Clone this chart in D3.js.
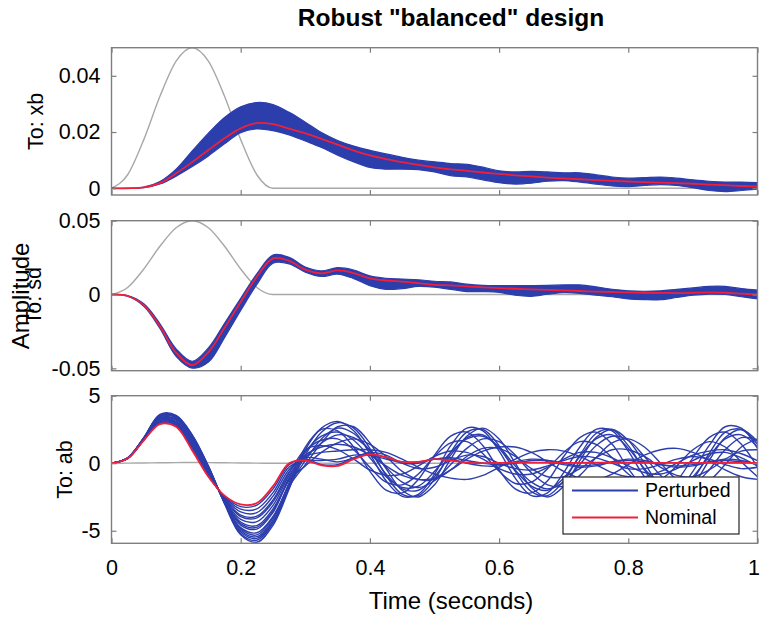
<!DOCTYPE html>
<html>
<head>
<meta charset="utf-8">
<script src="https://cdn.jsdelivr.net/npm/d3@7"></script>
<style>
  body { margin: 0; background: #ffffff; }
  text { font-family: "Liberation Sans", Arial, Helvetica, sans-serif; fill: #000; }
</style>
</head>
<body>
<svg id="chart" width="760" height="623"></svg>
<script>
// ---- sample times (seconds) ----
const time = [0, 0.025, 0.05, 0.075, 0.1, 0.125, 0.15, 0.175, 0.2, 0.225,
  0.25, 0.275, 0.3, 0.325, 0.35, 0.375, 0.4, 0.425, 0.45, 0.475,
  0.5, 0.525, 0.55, 0.575, 0.6, 0.625, 0.65, 0.675, 0.7, 0.725,
  0.75, 0.775, 0.8, 0.825, 0.85, 0.875, 0.9, 0.925, 0.95, 0.975, 1];
const timeTicks = [0, 0.2, 0.4, 0.6, 0.8, 1];
const timeTickLabels = ["0", "0.2", "0.4", "0.6", "0.8", "1"];

// ---- disturbance input (grey) ----
const inputPulse = [0, 0.0048, 0.0173, 0.0327, 0.0452, 0.05, 0.0452, 0.0327, 0.0173, 0.0048,
  0, 0, 0, 0, 0, 0, 0, 0, 0, 0, 0, 0, 0, 0, 0, 0, 0, 0, 0, 0, 0, 0, 0, 0, 0, 0, 0, 0, 0, 0, 0];

// ---- output xb ----
const xbRange = [-0.0024, 0.05];
const xbTicks = [0, 0.02, 0.04];
const xbTickLabels = ["0", "0.02", "0.04"];
const xbNominal = [0, 0.0000, 0.0003, 0.0018, 0.0053, 0.0093, 0.0136, 0.0178, 0.0213, 0.0232,
  0.0228, 0.0212, 0.0195, 0.0176, 0.0155, 0.0134, 0.0117, 0.0104, 0.0093, 0.0083,
  0.0074, 0.0067, 0.0062, 0.0056, 0.0051, 0.0046, 0.0042, 0.0038, 0.0035, 0.0032,
  0.0029, 0.0026, 0.0024, 0.0022, 0.0020, 0.0018, 0.0016, 0.0013, 0.0011, 0.0008, 0.0006];
const xbUpper = [0, 0.0000, 0.0004, 0.0024, 0.0068, 0.0133, 0.0196, 0.0252, 0.0290, 0.0305,
  0.0298, 0.0270, 0.0235, 0.0198, 0.0170, 0.0150, 0.0135, 0.0122, 0.0110, 0.0100,
  0.0094, 0.0088, 0.0085, 0.0075, 0.0062, 0.0058, 0.0060, 0.0058, 0.0055, 0.0055,
  0.0048, 0.0040, 0.0036, 0.0038, 0.0040, 0.0036, 0.0030, 0.0025, 0.0022, 0.0022, 0.0020];
const xbLower = [0, 0.0000, 0.0002, 0.0015, 0.0043, 0.0077, 0.0115, 0.0158, 0.0198, 0.0211,
  0.0205, 0.0190, 0.0168, 0.0145, 0.0118, 0.0094, 0.0074, 0.0068, 0.0068, 0.0066,
  0.0058, 0.0045, 0.0040, 0.0030, 0.0020, 0.0015, 0.0018, 0.0025, 0.0027, 0.0022,
  0.0015, 0.0008, 0.0006, 0.0010, 0.0013, 0.0010, 0.0002, -0.0008, -0.0012, -0.0008, -0.0003];

// ---- output sd ----
const sdRange = [-0.0516, 0.05];
const sdTicks = [-0.05, 0, 0.05];
const sdTickLabels = ["-0.05", "0", "0.05"];
const sdNominal = [0, -0.0010, -0.0072, -0.0215, -0.0395, -0.0478, -0.0390, -0.0225, -0.0050, 0.0120,
  0.0245, 0.0228, 0.0168, 0.0143, 0.0163, 0.0145, 0.0110, 0.0095, 0.0087, 0.0077,
  0.0066, 0.0062, 0.0055, 0.0049, 0.0043, 0.0039, 0.0035, 0.0032, 0.0028, 0.0024,
  0.0020, 0.0017, 0.0014, 0.0012, 0.0011, 0.0010, 0.0012, 0.0014, 0.0012, 0.0006, 0.0000];
const sdUpper = [0, -0.0007, -0.0063, -0.0198, -0.0368, -0.0452, -0.0362, -0.0195, -0.0025, 0.0140,
  0.0268, 0.0252, 0.0186, 0.0160, 0.0182, 0.0166, 0.0126, 0.0110, 0.0105, 0.0100,
  0.0090, 0.0085, 0.0070, 0.0062, 0.0060, 0.0060, 0.0060, 0.0062, 0.0065, 0.0065,
  0.0052, 0.0035, 0.0025, 0.0022, 0.0025, 0.0035, 0.0045, 0.0055, 0.0055, 0.0040, 0.0030];
const sdLower = [0, -0.0012, -0.0080, -0.0230, -0.0418, -0.0498, -0.0458, -0.0292, -0.0108, 0.0068,
  0.0212, 0.0208, 0.0152, 0.0122, 0.0138, 0.0108, 0.0060, 0.0035, 0.0040, 0.0055,
  0.0050, 0.0035, 0.0020, 0.0020, 0.0015, -0.0005, -0.0012, 0.0002, 0.0012, 0.0008,
  -0.0005, -0.0015, -0.0030, -0.0035, -0.0035, -0.0020, -0.0005, 0.0003, 0.0000, -0.0015, -0.0030];

// ---- output ab ----
const abRange = [-5.93, 5];
const abTicks = [-5, 0, 5];
const abTickLabels = ["-5", "0", "5"];
const abNominal = [0, 0.35, 1.70, 2.90, 2.70, 0.95, -1.00, -2.40, -3.05, -2.95, -1.70, 0.00,
  0.20, -0.15, -0.20, 0.30, 0.65, 0.45, 0.10, 0.10, 0.30, 0.20, 0.05, 0.00, 0.03, 0.05, 0.05, 0.04,
  0.03, 0.03, 0.04, 0.04, 0.03, 0.02, 0.02, 0.03, 0.03, 0.02, 0.02, 0.02, 0.02];

// perturbed plant responses for ab
const abRun1 = [0, 0.40, 1.90, 3.62, 3.55, 2.10, -0.20, -3.00, -5.30, -5.85, -4.60, -1.90,
  1.00, 2.60, 3.10, 2.40, 0.70, -1.30, -2.45, -2.30, -0.80, 1.30, 2.60, 2.40, 0.90, -1.10, -2.40, -2.20,
  -0.70, 1.20, 2.50, 2.40, 0.90, -1.00, -2.20, -2.10, -0.60, 1.30, 2.70, 2.60, 1.10];
const abRun2 = [0, 0.40, 1.88, 3.58, 3.50, 2.06, -0.25, -2.96, -5.22, -5.70, -4.45, -1.80,
  0.60, 2.30, 3.00, 2.60, 1.10, -0.90, -2.30, -2.40, -1.20, 0.80, 2.30, 2.50, 1.30, -0.60, -2.10, -2.40,
  -1.30, 0.60, 2.20, 2.50, 1.30, -0.50, -2.00, -2.30, -1.20, 0.70, 2.30, 2.50, 1.40];
const abRun3 = [0, 0.39, 1.87, 3.55, 3.46, 2.01, -0.27, -2.94, -5.10, -5.57, -4.35, -1.72,
  -0.10, 1.50, 2.70, 2.70, 1.50, -0.40, -2.00, -2.50, -1.60, 0.30, 2.00, 2.60, 1.80, 0.00, -1.80, -2.50,
  -1.70, 0.20, 1.90, 2.50, 1.70, 0.00, -1.70, -2.30, -1.60, 0.20, 1.90, 2.50, 1.60];
const abRun4 = [0, 0.39, 1.86, 3.50, 3.43, 1.95, -0.31, -2.92, -4.98, -5.44, -4.20, -1.63,
  0.20, 1.80, 2.60, 2.20, 0.90, -0.80, -1.90, -2.00, -1.00, 0.60, 1.90, 2.10, 1.10, -0.50, -1.70, -2.00,
  -1.10, 0.50, 1.80, 2.10, 1.10, -0.40, -1.60, -1.90, -1.00, 0.50, 1.80, 2.10, 1.20];
const abRun5 = [0, 0.39, 1.85, 3.46, 3.40, 1.88, -0.36, -2.90, -4.86, -5.31, -4.05, -1.55,
  0.80, 2.00, 2.30, 1.70, 0.40, -1.00, -1.80, -1.70, -0.60, 0.80, 1.80, 2.00, 1.20, -0.20, -1.40, -1.90,
  -1.40, -0.10, 1.30, 2.00, 1.70, 0.50, -0.90, -1.70, -1.60, -0.50, 1.00, 1.90, 1.70];
const abRun6 = [0, 0.38, 1.84, 3.43, 3.36, 1.83, -0.40, -2.86, -4.77, -5.15, -3.94, -1.45,
  1.20, 2.50, 2.40, 1.20, -0.60, -2.00, -2.20, -1.20, 0.60, 2.00, 2.30, 1.30, -0.50, -1.90, -2.20, -1.30,
  0.50, 1.90, 2.30, 1.40, -0.40, -1.80, -2.10, -1.30, 0.40, 1.90, 2.30, 1.40, -0.30];
const abRun7 = [0, 0.38, 1.82, 3.36, 3.28, 1.72, -0.47, -2.80, -4.58, -4.88, -3.65, -1.27,
  -0.20, 0.80, 1.50, 1.80, 1.40, 0.50, -0.60, -1.20, -1.20, -0.50, 0.50, 1.10, 1.10, 0.50, -0.40, -1.00,
  -1.00, -0.40, 0.40, 1.00, 1.00, 0.50, -0.30, -0.90, -1.00, -0.50, 0.30, 0.90, 1.00];
const abRun8 = [0, 0.37, 1.81, 3.33, 3.24, 1.68, -0.50, -2.78, -4.47, -4.75, -3.52, -1.18,
  0.40, 1.50, 2.10, 1.90, 1.00, -0.30, -1.40, -1.80, -1.30, -0.10, 1.10, 1.80, 1.60, 0.60, -0.70, -1.60,
  -1.70, -0.90, 0.40, 1.50, 1.80, 1.20, 0.00, -1.20, -1.70, -1.30, -0.10, 1.20, 1.80];
const abRun9 = [0, 0.37, 1.80, 3.30, 3.20, 1.62, -0.55, -2.76, -4.35, -4.62, -3.38, -1.09,
  0.90, 1.70, 1.80, 1.00, -0.30, -1.40, -1.60, -0.80, 0.50, 1.50, 1.60, 0.70, -0.60, -1.50, -1.40, -0.40,
  0.80, 1.60, 1.40, 0.40, -0.80, -1.50, -1.20, -0.20, 1.00, 1.60, 1.20, 0.10, -1.00];
const abRun10 = [0, 0.37, 1.78, 3.25, 3.10, 1.53, -0.60, -2.70, -4.16, -4.33, -3.12, -0.91,
  0.60, 1.20, 1.40, 1.20, 0.60, -0.20, -0.90, -1.20, -1.10, -0.50, 0.30, 0.90, 1.20, 1.20, 0.80, 0.10,
  -0.60, -1.10, -1.20, -0.80, -0.10, 0.60, 1.00, 1.10, 0.80, 0.20, -0.50, -1.00, -1.20];
const abRun11 = [0, 0.36, 1.77, 3.17, 3.04, 1.41, -0.70, -2.63, -3.95, -4.05, -2.86, -0.73,
  1.00, 1.30, 1.00, 0.30, -0.50, -0.90, -0.80, -0.20, 0.50, 0.90, 0.80, 0.30, -0.40, -0.80, -0.80, -0.30,
  0.30, 0.80, 0.80, 0.40, -0.20, -0.70, -0.80, -0.40, 0.20, 0.70, 0.80, 0.40, -0.20];
const abRun12 = [0, 0.36, 1.76, 3.14, 2.99, 1.36, -0.74, -2.61, -3.84, -3.92, -2.72, -0.64,
  0.50, 0.80, 0.90, 1.00, 1.00, 0.80, 0.30, -0.30, -0.80, -1.10, -1.20, -0.90, -0.30, 0.30, 0.80, 1.00,
  0.90, 0.50, -0.10, -0.70, -1.00, -1.00, -0.60, 0.00, 0.60, 0.90, 1.00, 0.70, 0.20];
const abRun13 = [0, 0.36, 1.74, 3.08, 2.90, 1.26, -0.81, -2.56, -3.61, -3.66, -2.44, -0.46,
  0.40, 0.30, 0.10, 0.40, 0.80, 0.60, 0.00, -0.40, -0.30, 0.20, 0.60, 0.50, 0.00, -0.40, -0.50, -0.20,
  0.20, 0.50, 0.40, 0.00, -0.40, -0.40, -0.10, 0.30, 0.50, 0.30, -0.10, -0.40, -0.30];
const abRun14 = [0, 0.35, 1.72, 3.01, 2.83, 1.15, -0.88, -2.50, -3.40, -3.38, -2.18, -0.28,
  0.20, 0.20, 0.30, 0.60, 0.60, 0.30, 0.10, 0.10, 0.30, 0.40, 0.20, 0.00, -0.10, 0.00, 0.20, 0.20,
  0.00, -0.20, -0.10, 0.10, 0.20, 0.10, -0.10, -0.20, -0.10, 0.10, 0.20, 0.10, 0.00];
const abRun15 = [0, 0.35, 1.70, 2.96, 2.76, 1.05, -0.95, -2.45, -3.21, -3.10, -1.90, -0.10,
  0.30, -0.10, -0.10, 0.40, 0.70, 0.40, 0.00, 0.00, 0.30, 0.30, 0.00, -0.20, -0.20, 0.10, 0.30, 0.20,
  -0.10, -0.30, -0.20, 0.10, 0.30, 0.20, -0.10, -0.30, -0.20, 0.10, 0.30, 0.20, -0.10];
const abPerturbed = [abRun1, abRun2, abRun3, abRun4, abRun5, abRun6, abRun7, abRun8,
  abRun9, abRun10, abRun11, abRun12, abRun13, abRun14, abRun15];

const legendLabels = ["Perturbed", "Nominal"];

// ---- styling ----
const BLUE = "#2c3dac";
const RED = "#f0203a";
const GREY = "#a8a8a8";
const AXIS = "#7f7f7f";
const TICK_FONT = 21.5;

const svg = d3.select("#chart");
const x = d3.scaleLinear().domain([0, 1]).range([111.5, 757.5]);

const panels = [
  { label: "To: xb", labelX: 43, top: 47.7, bottom: 195, range: xbRange, ticks: xbTicks, tickLabels: xbTickLabels,
    nominal: xbNominal, lower: xbLower, upper: xbUpper },
  { label: "To: sd", labelX: 41, top: 220.7, bottom: 370.7, range: sdRange, ticks: sdTicks, tickLabels: sdTickLabels,
    nominal: sdNominal, lower: sdLower, upper: sdUpper },
  { label: "To: ab", labelX: 72, top: 395.7, bottom: 543.3, range: abRange, ticks: abTicks, tickLabels: abTickLabels,
    nominal: abNominal, runs: abPerturbed, xLabels: true }
];

const defs = svg.append("defs");

panels.forEach((p, i) => {
  const y = d3.scaleLinear().domain(p.range).range([p.bottom, p.top]);
  const clipId = "clip" + i;
  defs.append("clipPath").attr("id", clipId)
    .append("rect")
    .attr("x", x(0)).attr("y", p.top)
    .attr("width", x(1) - x(0)).attr("height", p.bottom - p.top);

  const line = d3.line()
    .x((d, k) => x(time[k]))
    .y(d => y(d))
    .curve(d3.curveCatmullRom.alpha(0.5));

  const plot = svg.append("g").attr("clip-path", `url(#${clipId})`);

  // input pulse
  plot.append("path")
    .datum(inputPulse)
    .attr("d", d3.line().x((d, k) => x(time[k])).y(d => y(d)).curve(d3.curveMonotoneX))
    .attr("fill", "none").attr("stroke", GREY).attr("stroke-width", 1.4);

  // perturbed responses: dense envelope or individual runs
  if (p.upper) {
    const area = d3.area()
      .x((d, k) => x(time[k]))
      .y0((d, k) => y(p.lower[k]))
      .y1((d, k) => y(p.upper[k]))
      .curve(d3.curveCatmullRom.alpha(0.5));
    plot.append("path")
      .datum(p.upper)
      .attr("d", area)
      .attr("fill", BLUE)
      .attr("stroke", BLUE).attr("stroke-width", 1.2);
  }
  if (p.runs) {
    plot.selectAll("path.run")
      .data(p.runs)
      .join("path")
      .attr("class", "run")
      .attr("d", line)
      .attr("fill", "none").attr("stroke", BLUE).attr("stroke-width", 1.4);
  }

  // nominal response
  plot.append("path")
    .datum(p.nominal)
    .attr("d", line)
    .attr("fill", "none").attr("stroke", RED).attr("stroke-width", 1.8);

  // axes box with inward ticks on every side
  const fmt = d => p.tickLabels[p.ticks.indexOf(d)];
  const left = svg.append("g").attr("transform", `translate(${x(0)},0)`)
    .call(d3.axisLeft(y).tickValues(p.ticks).tickFormat(fmt).tickSizeInner(-5).tickSizeOuter(0).tickPadding(11));
  const right = svg.append("g").attr("transform", `translate(${x(1)},0)`)
    .call(d3.axisRight(y).tickValues(p.ticks).tickFormat("").tickSizeInner(-5).tickSizeOuter(0));
  const top = svg.append("g").attr("transform", `translate(0,${p.top})`)
    .call(d3.axisTop(x).tickValues(timeTicks).tickFormat("").tickSizeInner(-5).tickSizeOuter(0));
  const bottom = svg.append("g").attr("transform", `translate(0,${p.bottom})`)
    .call(d3.axisBottom(x).tickValues(timeTicks)
      .tickFormat(p.xLabels ? (d => timeTickLabels[timeTicks.indexOf(d)]) : "")
      .tickSizeInner(-5).tickSizeOuter(0).tickPadding(16.5));
  [left, right, top, bottom].forEach(a => {
    a.select(".domain").remove();
    a.selectAll(".tick line").attr("stroke", AXIS).attr("stroke-width", 1.2);
    a.selectAll(".tick text").attr("font-size", TICK_FONT).attr("fill", "#000")
      .style("font-family", '"Liberation Sans", Arial, sans-serif');
  });
  // keep the last time label inside the canvas edge
  if (p.xLabels) {
    bottom.selectAll(".tick text")
      .filter(d => d === 1)
      .attr("text-anchor", "end").attr("x", 2);
  }
  svg.append("rect")
    .attr("x", x(0)).attr("y", p.top)
    .attr("width", x(1) - x(0)).attr("height", p.bottom - p.top)
    .attr("fill", "none").attr("stroke", AXIS).attr("stroke-width", 1.4);

  // output channel label
  svg.append("text")
    .attr("transform", `translate(${p.labelX},${(p.top + p.bottom) / 2}) rotate(-90)`)
    .attr("text-anchor", "middle")
    .attr("font-size", TICK_FONT)
    .text(p.label);
});

// shared y label
svg.append("text")
  .attr("transform", `translate(29,296) rotate(-90)`)
  .attr("text-anchor", "middle")
  .attr("font-size", 24)
  .text("Amplitude");

// title and x label
svg.append("text")
  .attr("x", 451).attr("y", 26)
  .attr("text-anchor", "middle")
  .attr("font-size", 24.5).attr("font-weight", "bold")
  .text('Robust "balanced" design');

svg.append("text")
  .attr("x", 451).attr("y", 609)
  .attr("text-anchor", "middle")
  .attr("font-size", 24)
  .text("Time (seconds)");

// legend
const legend = svg.append("g").attr("transform", "translate(563,477)");
legend.append("rect")
  .attr("width", 176).attr("height", 57)
  .attr("fill", "#fff").attr("stroke", "#262626").attr("stroke-width", 1.2);
const legendColors = [BLUE, RED];
legendLabels.forEach((lab, k) => {
  const ly = 13.5 + k * 27;
  legend.append("line")
    .attr("x1", 9).attr("x2", 75).attr("y1", ly).attr("y2", ly)
    .attr("stroke", legendColors[k]).attr("stroke-width", 1.8);
  legend.append("text")
    .attr("x", 82).attr("y", ly).attr("dy", "0.35em")
    .attr("font-size", 19.5)
    .text(lab);
});
</script>
</body>
</html>
